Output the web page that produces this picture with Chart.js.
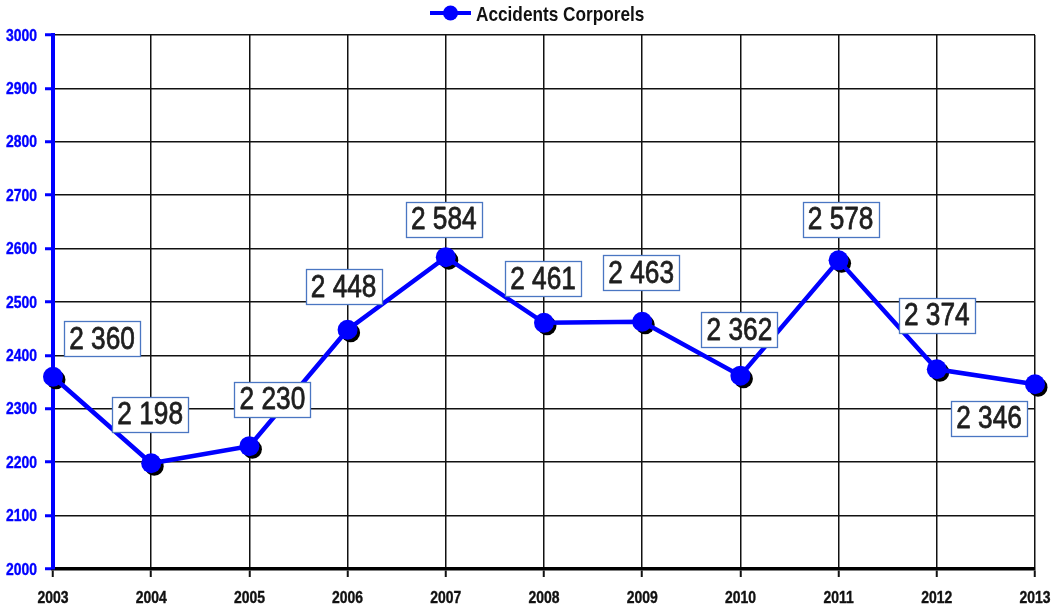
<!DOCTYPE html>
<html>
<head>
<meta charset="utf-8">
<script src="https://cdn.jsdelivr.net/npm/chart.js@4/dist/chart.umd.min.js"></script>
<style>
html,body{margin:0;padding:0;background:#fff;}
#wrap{width:1053px;height:611px;position:relative;}
</style>
</head>
<body>
<div id="wrap"><canvas id="c" width="1053" height="611"></canvas></div>
<script>
const years = ['2003','2004','2005','2006','2007','2008','2009','2010','2011','2012','2013'];
const accidents = [2360, 2198, 2230, 2448, 2584, 2461, 2463, 2362, 2578, 2374, 2346];
const seriesName = 'Accidents Corporels';
const yMin = 2000, yMax = 3000, yStep = 100;

// label placement offsets (pixels from point) — style only
const labelOffsets = [[49,-38],[-1,-49],[23,-47],[-4,-43],[-2,-38],[-1,-44],[-1,-49],[-1,-46],[2,-41],[0,-54],[-46,34]];

const FONT = '"Liberation Sans", Arial, sans-serif';
const SQ = 0.82; // horizontal condensation

function fmt(v){ return String(v).replace(/\B(?=(\d{3})+(?!\d))/g,' '); }

function narrowText(ctx, txt, x, y, font, align, color, thick){
  ctx.save();
  ctx.font = font;
  ctx.fillStyle = color;
  ctx.textAlign = align;
  ctx.textBaseline = 'middle';
  ctx.translate(x, y);
  ctx.scale(SQ, 1);
  ctx.fillText(txt, 0, 0);
  if (thick) {
    ctx.strokeStyle = color;
    ctx.lineWidth = thick;
    ctx.lineJoin = 'round';
    ctx.strokeText(txt, 0, 0);
  }
  ctx.restore();
}
function narrowWidth(ctx, txt, font){
  ctx.save(); ctx.font = font; const w = ctx.measureText(txt).width * SQ; ctx.restore(); return w;
}

const shadowPlugin = {
  id:'shadowPts',
  beforeDatasetsDraw(chart){
    const ctx = chart.ctx;
    const meta = chart.getDatasetMeta(0);
    ctx.save();
    ctx.fillStyle = '#000';
    meta.data.forEach(p=>{
      ctx.beginPath();
      ctx.arc(p.x+3, p.y+3, 9.5, 0, Math.PI*2);
      ctx.fill();
    });
    ctx.restore();
  }
};

const labelPlugin = {
  id:'boxLabels',
  afterDatasetsDraw(chart){
    const ctx = chart.ctx;
    const meta = chart.getDatasetMeta(0);
    const data = chart.data.datasets[0].data;
    const font = '32px ' + FONT;
    meta.data.forEach((p,i)=>{
      const txt = fmt(data[i]);
      const off = labelOffsets[i];
      const cx = p.x + off[0], cy = p.y + off[1];
      const w = Math.round(narrowWidth(ctx, txt, font) + 10);
      const h = 35;
      const bx = Math.round(cx - w/2) + 0.5, by = Math.round(cy - h/2) + 0.5;
      ctx.save();
      ctx.fillStyle = '#fff';
      ctx.fillRect(bx, by, w, h);
      ctx.strokeStyle = '#4a76c2';
      ctx.lineWidth = 1.3;
      ctx.strokeRect(bx, by, w, h);
      ctx.restore();
      narrowText(ctx, txt, cx, cy + 1, font, 'center', '#1e1e1e', 0.8);
    });
  }
};

const textPlugin = {
  id:'axisText',
  afterDraw(chart){
    const ctx = chart.ctx;
    const ys = chart.scales.y;
    const tfont = 'bold 17px ' + FONT;
    ys.ticks.forEach(t=>{
      narrowText(ctx, String(t.value), ys.left + 37, ys.getPixelForValue(t.value) + 1, tfont, 'right', '#0000ff', 0.4);
    });
    const xs = chart.scales.x;
    xs.ticks.forEach((t,i)=>{
      narrowText(ctx, years[i], xs.getPixelForTick(i), 598, tfont, 'center', '#111', 0.4);
    });
    const lfont = 'bold 21px ' + FONT;
    const tw = narrowWidth(ctx, seriesName, lfont);
    const total = 41 + 5 + tw;
    const x0 = Math.round((chart.width - total)/2) + 11;
    const y = 13;
    ctx.save();
    ctx.strokeStyle = '#0000ff';
    ctx.lineWidth = 4;
    ctx.beginPath(); ctx.moveTo(x0, y); ctx.lineTo(x0+41, y); ctx.stroke();
    ctx.fillStyle = '#0000ff';
    ctx.beginPath(); ctx.arc(x0+20.5, y, 7.5, 0, Math.PI*2); ctx.fill();
    ctx.restore();
    narrowText(ctx, seriesName, x0+46, y+2, lfont, 'left', '#111');
  }
};

new Chart(document.getElementById('c'), {
  type:'line',
  data:{
    labels: years,
    datasets:[{
      label: seriesName,
      data: accidents,
      borderColor:'#0000ff',
      backgroundColor:'#0000ff',
      borderWidth:4.5,
      pointRadius:10,
      pointHoverRadius:10,
      pointBackgroundColor:'#0000ff',
      pointBorderWidth:0,
      tension:0
    }]
  },
  options:{
    responsive:false,
    animation:false,
    events:[],
    layout:{padding:{top:35,right:18,left:0,bottom:0}},
    plugins:{legend:{display:false},tooltip:{enabled:false}},
    scales:{
      x:{
        offset:false,
        grid:{color:'#111',lineWidth:1.5,tickLength:8,tickColor:'#111',tickWidth:2},
        border:{color:'#000',width:3.5},
        ticks:{color:'rgba(0,0,0,0)',font:{family:FONT,size:12},padding:12,maxRotation:0,autoSkip:false},
        afterFit(s){ s.height = 42; s.paddingLeft = 0; s.paddingRight = 0; }
      },
      y:{
        min:yMin,max:yMax,
        grid:{color:'#111',lineWidth:1.5,tickLength:8,tickColor:'#0000ff',tickWidth:3},
        border:{color:'#0000ff',width:4},
        ticks:{stepSize:yStep,color:'rgba(0,0,0,0)',font:{family:FONT,size:12},padding:8},
        afterFit(s){ s.width = 53; s.paddingTop = 0; s.paddingBottom = 0; }
      }
    }
  },
  plugins:[shadowPlugin,labelPlugin,textPlugin]
});
</script>
</body>
</html>
